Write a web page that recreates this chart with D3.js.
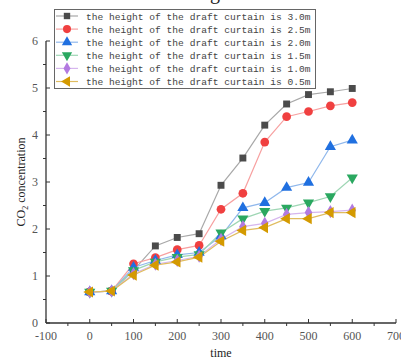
<!DOCTYPE html>
<html>
<head>
<meta charset="utf-8">
<script src="https://cdn.jsdelivr.net/npm/d3@7"></script>
<style>
  body { margin: 0; background: #fff; }
  svg { display: block; }
</style>
</head>
<body>
<div id="chart"></div>
<script>
let times = [0, 50, 100, 150, 200, 250, 300, 350, 400, 450, 500, 550, 600]
let h30 = [0.66, 0.68, 1.12, 1.64, 1.82, 1.9, 2.93, 3.51, 4.21, 4.66, 4.86, 4.92, 4.99]
let h25 = [0.66, 0.68, 1.26, 1.39, 1.56, 1.65, 2.42, 2.76, 3.85, 4.39, 4.5, 4.62, 4.69]
let h20 = [0.66, 0.68, 1.18, 1.33, 1.45, 1.5, 1.85, 2.45, 2.56, 2.88, 2.99, 3.75, 3.89]
let h15 = [0.66, 0.68, 1.12, 1.3, 1.4, 1.46, 1.92, 2.22, 2.38, 2.45, 2.56, 2.69, 3.09]
let h10 = [0.66, 0.68, 1.05, 1.25, 1.33, 1.42, 1.78, 2.05, 2.12, 2.31, 2.35, 2.37, 2.4]
let h05 = [0.66, 0.68, 1.02, 1.23, 1.3, 1.4, 1.74, 1.97, 2.03, 2.22, 2.22, 2.35, 2.35]
let seriesNames = ['3.0m', '2.5m', '2.0m', '1.5m', '1.0m', '0.5m']
let xTicks = [-100, 0, 100, 200, 300, 400, 500, 600, 700]
let yTicks = [0, 1, 2, 3, 4, 5, 6]

let width = 401
let height = 360

let svg = d3
  .select('#chart')
  .append('svg')
  .attr('width', width)
  .attr('height', height)

let x = d3.scaleLinear().domain([-100, 700]).range([46, 396])
let y = d3.scaleLinear().domain([0, 6]).range([323, 41])

let markerColors = ['#4b4b4b', '#f04040', '#2070e0', '#2aa860', '#b27ae0', '#d49a00']
let lineColors = ['#a8a8a8', '#f7a0a0', '#90b8ec', '#9ed6b4', '#d6b6ee', '#e0bc60']
let shapes = [
  { type: d3.symbolSquare, size: 48, rot: 0 },
  { type: d3.symbolCircle, size: 60, rot: 0 },
  { type: d3.symbolTriangle, size: 54, rot: 0 },
  { type: d3.symbolTriangle, size: 54, rot: 180 },
  { type: d3.symbolDiamond, size: 50, rot: 0 },
  { type: d3.symbolTriangle, size: 54, rot: -90 }
]

let allSeries = [h30, h25, h20, h15, h10, h05]

// partial caption cut off at the top
svg
  .append('text')
  .attr('x', 215)
  .attr('y', -1)
  .attr('text-anchor', 'middle')
  .attr('font-family', 'Liberation Serif')
  .attr('font-size', 20)
  .attr('fill', '#222')
  .text('g')

// axes
let tickFont = 'Liberation Serif'
let tickColor = '#555'

let xAxis = svg.append('g').attr('transform', 'translate(0,' + y(0) + ')')
xAxis
  .append('line')
  .attr('x1', x(-100))
  .attr('x2', x(700))
  .attr('stroke', '#333')
  .attr('stroke-width', 1.3)
xAxis
  .selectAll('.xmajor')
  .data(xTicks)
  .enter()
  .append('line')
  .attr('x1', d => x(d))
  .attr('x2', d => x(d))
  .attr('y1', 0)
  .attr('y2', -4)
  .attr('stroke', '#333')
xAxis
  .selectAll('.xminor')
  .data(d3.range(-50, 700, 100))
  .enter()
  .append('line')
  .attr('x1', d => x(d))
  .attr('x2', d => x(d))
  .attr('y1', 0)
  .attr('y2', 3)
  .attr('stroke', '#333')
xAxis
  .selectAll('.xlabel')
  .data(xTicks)
  .enter()
  .append('text')
  .attr('x', d => x(d))
  .attr('y', 17)
  .attr('text-anchor', 'middle')
  .attr('font-family', tickFont)
  .attr('font-size', 12)
  .attr('fill', tickColor)
  .text(d => d)

let yAxis = svg.append('g').attr('transform', 'translate(' + x(-100) + ',0)')
yAxis
  .append('line')
  .attr('y1', y(0))
  .attr('y2', y(6))
  .attr('stroke', '#333')
  .attr('stroke-width', 1.3)
yAxis
  .selectAll('.ymajor')
  .data(yTicks)
  .enter()
  .append('line')
  .attr('y1', d => y(d))
  .attr('y2', d => y(d))
  .attr('x1', 0)
  .attr('x2', 4)
  .attr('stroke', '#333')
yAxis
  .selectAll('.yminor')
  .data(d3.range(0.5, 6, 1))
  .enter()
  .append('line')
  .attr('y1', d => y(d))
  .attr('y2', d => y(d))
  .attr('x1', 0)
  .attr('x2', -3)
  .attr('stroke', '#333')
yAxis
  .selectAll('.ylabel')
  .data(yTicks)
  .enter()
  .append('text')
  .attr('x', -8)
  .attr('y', d => y(d) + 4)
  .attr('text-anchor', 'end')
  .attr('font-family', tickFont)
  .attr('font-size', 12)
  .attr('fill', tickColor)
  .text(d => d)

// axis titles
svg
  .append('text')
  .attr('x', x(300))
  .attr('y', 357)
  .attr('text-anchor', 'middle')
  .attr('font-family', tickFont)
  .attr('font-size', 12)
  .attr('fill', '#222')
  .text('time')

let yTitle = svg
  .append('text')
  .attr('transform', 'translate(25,182) rotate(-90)')
  .attr('text-anchor', 'middle')
  .attr('font-family', tickFont)
  .attr('font-size', 12)
  .attr('fill', '#222')
yTitle.append('tspan').text('CO')
yTitle.append('tspan').attr('font-size', 8).attr('dy', 3).text('2')
yTitle.append('tspan').attr('dy', -3).text(' concentration')

// series
let line = d3
  .line()
  .x((d, i) => x(times[i]))
  .y(d => y(d))

allSeries.forEach((vals, k) => {
  svg
    .append('path')
    .datum(vals)
    .attr('d', line)
    .attr('fill', 'none')
    .attr('stroke', lineColors[k])
    .attr('stroke-width', 1.2)
})

allSeries.forEach((vals, k) => {
  let sym = d3.symbol().type(shapes[k].type).size(shapes[k].size)
  svg
    .append('g')
    .selectAll('path')
    .data(vals)
    .enter()
    .append('path')
    .attr('d', sym)
    .attr('transform', (d, i) => `translate(${x(times[i])},${y(d)}) rotate(${shapes[k].rot})`)
    .attr('fill', markerColors[k])
})

// legend
let legend = svg.append('g')
legend
  .append('rect')
  .attr('x', 54.5)
  .attr('y', 9.5)
  .attr('width', 261)
  .attr('height', 79)
  .attr('fill', '#fff')
  .attr('stroke', '#666')
  .attr('stroke-width', 1)

seriesNames.forEach((name, k) => {
  let ly = 16 + k * 13.1
  legend
    .append('line')
    .attr('x1', 56)
    .attr('x2', 78)
    .attr('y1', ly)
    .attr('y2', ly)
    .attr('stroke', lineColors[k])
    .attr('stroke-width', 1.2)
  legend
    .append('path')
    .attr('d', d3.symbol().type(shapes[k].type).size(shapes[k].size * 0.85)())
    .attr('transform', `translate(67,${ly}) rotate(${shapes[k].rot})`)
    .attr('fill', markerColors[k])
  legend
    .append('text')
    .attr('x', 86)
    .attr('y', ly + 3.5)
    .attr('font-family', 'Liberation Mono')
    .attr('font-size', 9.6)
    .attr('fill', '#444')
    .text('the height of the draft curtain is ' + name)
})
</script>
</body>
</html>
